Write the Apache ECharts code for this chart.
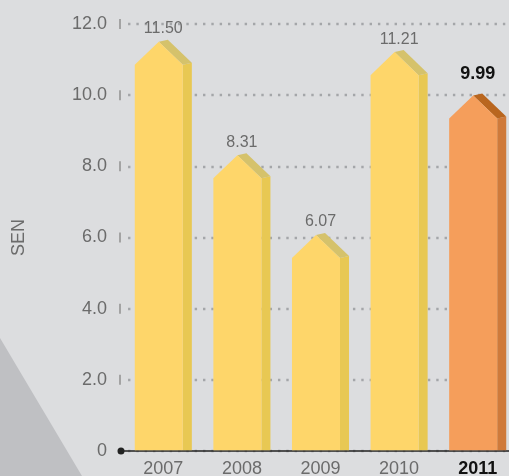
<!DOCTYPE html>
<html>
<head>
<meta charset="utf-8">
<script src="https://cdn.jsdelivr.net/npm/echarts@6/dist/echarts.min.js"></script>
<style>
html, body { margin: 0; padding: 0; background: #dcdddf; }
#chart { width: 509px; height: 476px; }
</style>
</head>
<body>
<div id="chart"></div>
<script>
// chart data
var years = ['2007', '2008', '2009', '2010', '2011'];
var dividends = [11.50, 8.31, 6.07, 11.21, 9.99];
var yTicks = [0, 2, 4, 6, 8, 10, 12];
var highlightYear = '2011';
var axisName = 'SEN';

var yellow = { front: '#fed66a', side: '#e8c853', roof: '#d5c26b' };
var orange = { front: '#f59e5b', side: '#cf7a3b', roof: '#b9661f' };

function renderHouse(params, api) {
    var i = api.value(0);
    var v = api.value(1);
    var top = api.coord([i, v]);
    var base = api.coord([i, 0]);
    var band = api.size([1, 0])[0];

    var front = band * 0.611;
    var depth = band * 0.115;
    var lift = 2;
    var roof = front * 0.48;

    var x0 = top[0] - (front + depth) / 2;
    var x1 = x0 + front;
    var mid = x0 + front / 2;
    var yp = top[1];
    var ys = yp + roof;
    var yb = base[1] - 0.8;

    var hot = years[i] === highlightYear;
    var c = hot ? orange : yellow;

    return {
        type: 'group',
        children: [
            { type: 'polygon', shape: { points: [[x1, yb], [x1, ys], [x1 + depth, ys - lift], [x1 + depth, yb]] }, style: { fill: c.side } },
            { type: 'polygon', shape: { points: [[mid, yp], [mid + depth, yp - lift], [x1 + depth, ys - lift], [x1, ys]] }, style: { fill: c.roof } },
            { type: 'polygon', shape: { points: [[x0, yb], [x0, ys], [mid, yp], [x1, ys], [x1, yb]] }, style: { fill: c.front } },
            {
                type: 'text',
                x: top[0],
                y: yp - (hot ? 12 : 5),
                style: {
                    text: v.toFixed(2),
                    align: 'center',
                    verticalAlign: 'bottom',
                    fontFamily: 'Liberation Sans',
                    fontSize: hot ? 18 : 16,
                    fontWeight: hot ? 'bold' : 'normal',
                    fill: hot ? '#111' : '#6b6b6b'
                }
            }
        ]
    };
}

var myChart = echarts.init(document.getElementById('chart'));

var option = {
    backgroundColor: '#dcdddf',
    animation: false,
    textStyle: { fontFamily: 'Liberation Sans' },
    graphic: [{
        type: 'polygon',
        z: -10,
        shape: { points: [[0, 338], [82, 476], [0, 476]] },
        style: { fill: '#bfc0c3' }
    }],
    // plot runs a little past the right edge, like the original crop
    grid: { left: 124, width: 393, top: 24, bottom: 25, outerBoundsMode: 'none', containLabel: false },
    xAxis: {
        type: 'category',
        data: years,
        axisTick: { show: false },
        axisLine: {
            symbol: ['circle', 'none'],
            symbolSize: [7, 7],
            symbolOffset: [-3, 0],
            lineStyle: { color: '#222', width: 1.5 }
        },
        axisLabel: {
            interval: 0,
            hideOverlap: false,
            margin: 9,
            formatter: function (v) {
                return v === highlightYear ? '{hot|' + v + '}' : '{norm|' + v + '}';
            },
            rich: {
                norm: { fontSize: 18, color: '#6b6b6b', fontFamily: 'Liberation Sans' },
                hot: { fontSize: 18, color: '#111', fontWeight: 'bold', fontFamily: 'Liberation Sans' }
            }
        }
    },
    yAxis: {
        type: 'value',
        min: yTicks[0],
        max: yTicks[yTicks.length - 1],
        interval: yTicks[1] - yTicks[0],
        name: axisName,
        nameLocation: 'middle',
        nameRotate: 90,
        nameGap: 96,
        nameTextStyle: { fontSize: 18, color: '#6b6b6b', fontFamily: 'Liberation Sans' },
        axisLine: { show: false },
        axisTick: { show: false },
        axisLabel: {
            margin: 3,
            formatter: function (v) {
                return v === 0 ? '{t|0}{n| }' : '{t|' + v.toFixed(1) + '}{k| }';
            },
            rich: {
                t: { fontSize: 18, color: '#6b6b6b', fontFamily: 'Liberation Sans', padding: [0, 12, 0, 0] },
                k: { width: 2, height: 10, backgroundColor: '#a3a3a3' },
                n: { width: 2, height: 10 }
            }
        },
        splitLine: {
            lineStyle: { color: '#a4a6a9', width: 2.4, type: [2.4, 5.93], dashOffset: 4.3 }
        }
    },
    series: [{
        type: 'custom',
        renderItem: renderHouse,
        data: dividends.map(function (v, i) { return [i, v]; })
    }]
};

myChart.setOption(option);
</script>
</body>
</html>
